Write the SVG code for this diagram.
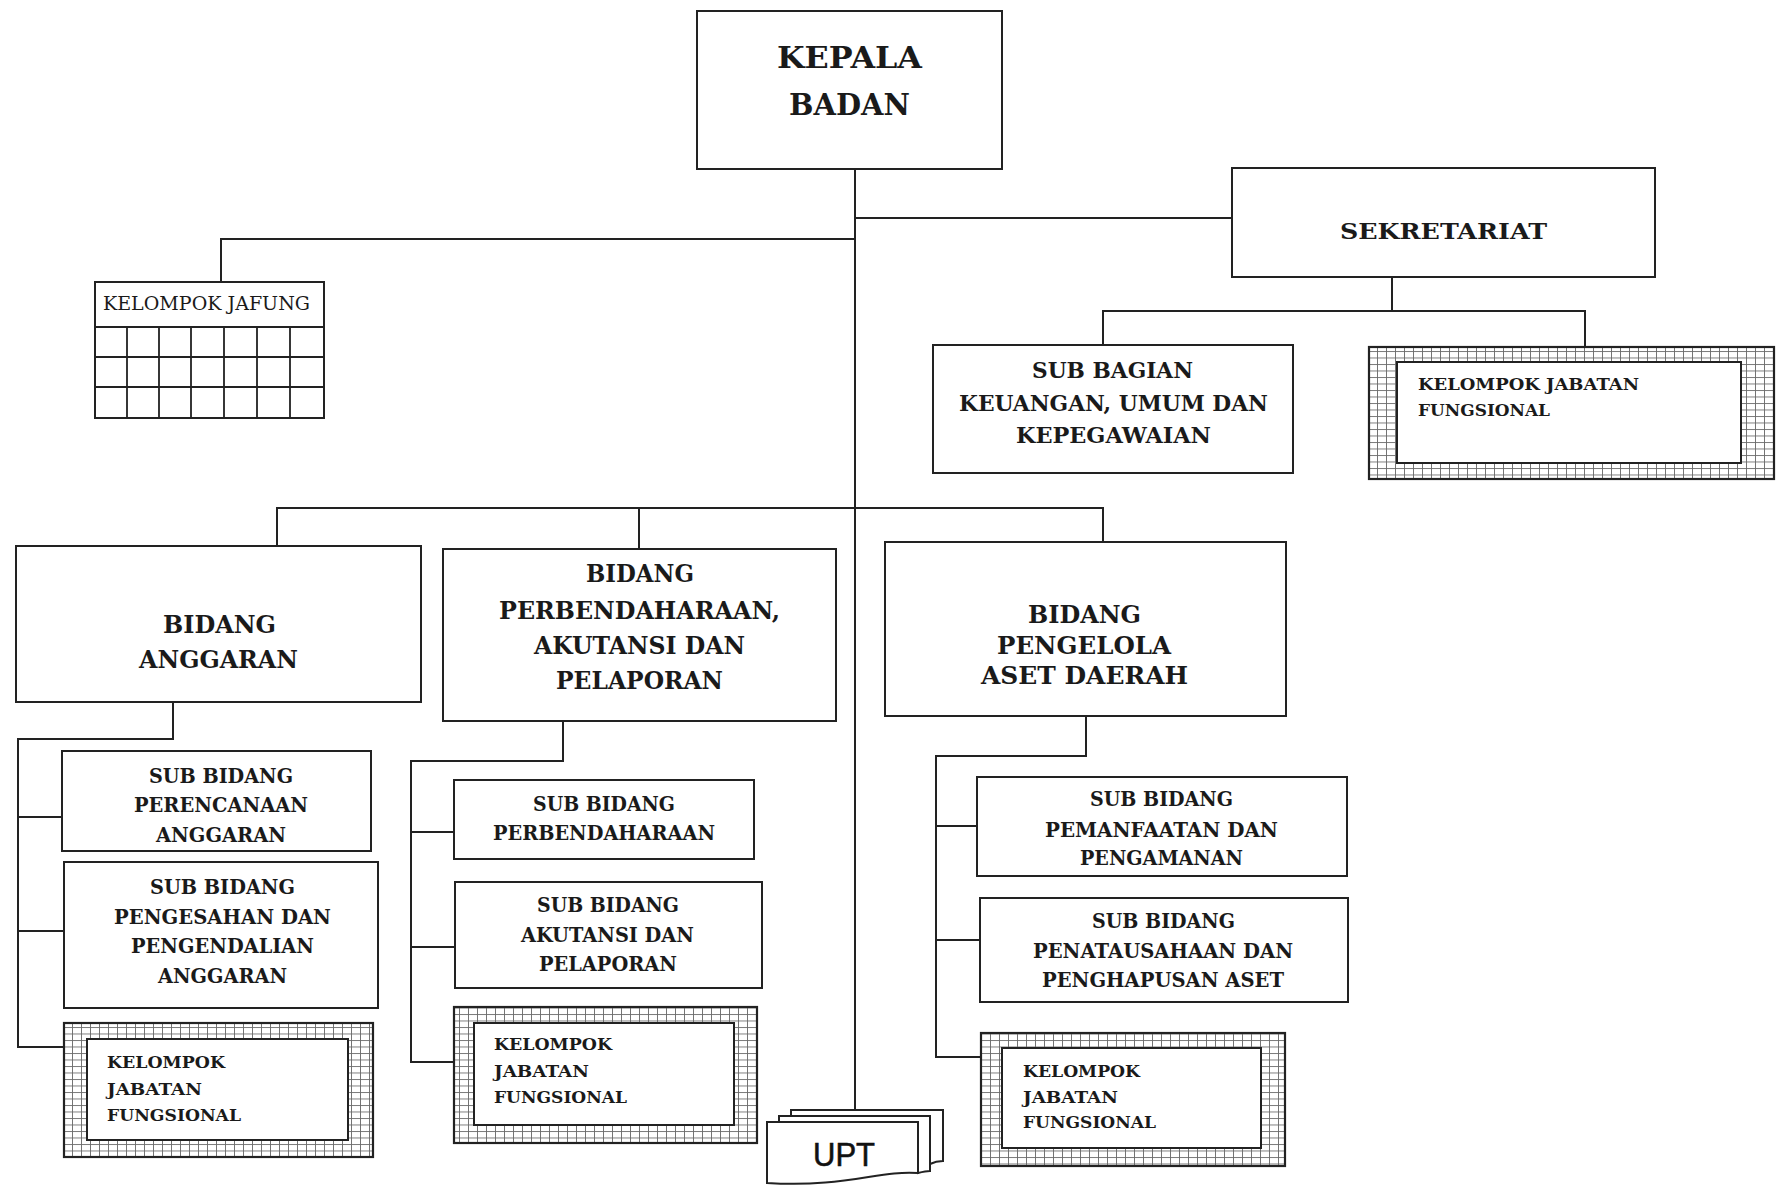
<svg xmlns="http://www.w3.org/2000/svg" width="1782" height="1185" viewBox="0 0 1782 1185">
<defs>
<pattern id="hatch" width="9" height="6.5" patternUnits="userSpaceOnUse">
<rect width="9" height="6.5" fill="#fff"/>
<path d="M0,0.5H9M0.5,0V6.5" stroke="#6a6a6a" stroke-width="0.9" fill="none"/>
</pattern>
<style>
.box{fill:#fff;stroke:#222;stroke-width:2}
.hat{fill:url(#hatch);stroke:#222;stroke-width:2.2}
.ln{fill:none;stroke:#222;stroke-width:2}
.grid{fill:none;stroke:#222;stroke-width:1.8}
.t{font-family:"DejaVu Serif","Liberation Serif",serif;font-weight:bold;fill:#1a1a1a}
.c{text-anchor:middle}
.k{font-size:17px}
.s{font-size:20px}
.b{font-size:24px}
</style>
</defs>
<rect width="1782" height="1185" fill="#fff"/>
<g id="connectors">
<path class="ln" d="M855,169V1110"/>
<path class="ln" d="M855,218H1232"/>
<path class="ln" d="M855,239H221V282"/>
<path class="ln" d="M1392,277V311M1103,345V311H1585V347"/>
<path class="ln" d="M277,546V508H1103V542M639,508V549"/>
<path class="ln" d="M173,702V739H18V1047H64M18,817H62M18,931H64"/>
<path class="ln" d="M563,721V761H411V1062H454M411,832H454M411,947H455"/>
<path class="ln" d="M1086,716V756H936V1057H981M936,826H977M936,940H980"/>
</g>
<g id="kepala">
<rect class="box" x="697" y="11" width="305" height="158"/>
<text class="t c" font-size="30" x="849.5" y="68" textLength="145" lengthAdjust="spacingAndGlyphs">KEPALA</text>
<text class="t c" font-size="30" x="849.5" y="115" textLength="121" lengthAdjust="spacingAndGlyphs">BADAN</text>
</g>
<g id="sekretariat">
<rect class="box" x="1232" y="168" width="423" height="109"/>
<text class="t c" font-size="23" x="1443.5" y="239" textLength="207" lengthAdjust="spacingAndGlyphs">SEKRETARIAT</text>
</g>
<g id="subbag">
<rect class="box" x="933" y="345" width="360" height="128"/>
<text class="t c" font-size="22" x="1112.5" y="378" textLength="161" lengthAdjust="spacingAndGlyphs">SUB BAGIAN</text>
<text class="t c" font-size="22" x="1113.5" y="411" textLength="309" lengthAdjust="spacingAndGlyphs">KEUANGAN, UMUM DAN</text>
<text class="t c" font-size="22" x="1113.5" y="443" textLength="195" lengthAdjust="spacingAndGlyphs">KEPEGAWAIAN</text>
</g>
<g id="kjf-sekretariat">
<rect class="hat" x="1369" y="347" width="405" height="132"/>
<rect class="box" x="1397" y="362" width="344" height="101"/>
<text class="t k" x="1418" y="390" textLength="221" lengthAdjust="spacingAndGlyphs">KELOMPOK JABATAN</text>
<text class="t k" x="1418" y="416" textLength="132" lengthAdjust="spacingAndGlyphs">FUNGSIONAL</text>
</g>
<g id="jafung">
<rect class="box" x="95" y="282" width="229" height="136"/>
<path class="grid" d="M95,327H324M95,357H324M95,387H324M127,327V418M159,327V418M191,327V418M224,327V418M257,327V418M290,327V418"/>
<text class="t" font-size="18" x="103" y="310" textLength="207" lengthAdjust="spacingAndGlyphs" style="font-weight:normal">KELOMPOK JAFUNG</text>
</g>
<g id="bidang-anggaran">
<rect class="box" x="16" y="546" width="405" height="156"/>
<text class="t c b" x="219.5" y="633" textLength="113" lengthAdjust="spacingAndGlyphs">BIDANG</text>
<text class="t c b" x="218.5" y="668" textLength="159" lengthAdjust="spacingAndGlyphs">ANGGARAN</text>
</g>
<g id="sub-perencanaan">
<rect class="box" x="62" y="751" width="309" height="100"/>
<text class="t c s" x="221" y="783" textLength="144" lengthAdjust="spacingAndGlyphs">SUB BIDANG</text>
<text class="t c s" x="221" y="812" textLength="174" lengthAdjust="spacingAndGlyphs">PERENCANAAN</text>
<text class="t c s" x="221" y="842" textLength="130" lengthAdjust="spacingAndGlyphs">ANGGARAN</text>
</g>
<g id="sub-pengesahan">
<rect class="box" x="64" y="862" width="314" height="146"/>
<text class="t c s" x="222.5" y="894" textLength="145" lengthAdjust="spacingAndGlyphs">SUB BIDANG</text>
<text class="t c s" x="222.5" y="924" textLength="217" lengthAdjust="spacingAndGlyphs">PENGESAHAN DAN</text>
<text class="t c s" x="222.5" y="953" textLength="183" lengthAdjust="spacingAndGlyphs">PENGENDALIAN</text>
<text class="t c s" x="222.5" y="983" textLength="129" lengthAdjust="spacingAndGlyphs">ANGGARAN</text>
</g>
<g id="kjf-anggaran">
<rect class="hat" x="64" y="1023" width="309" height="134"/>
<rect class="box" x="87" y="1039" width="261" height="101"/>
<text class="t k" x="107" y="1068" textLength="118" lengthAdjust="spacingAndGlyphs">KELOMPOK</text>
<text class="t k" x="107" y="1095" textLength="95" lengthAdjust="spacingAndGlyphs">JABATAN</text>
<text class="t k" x="107" y="1121" textLength="134" lengthAdjust="spacingAndGlyphs">FUNGSIONAL</text>
</g>
<g id="bidang-perbendaharaan">
<rect class="box" x="443" y="549" width="393" height="172"/>
<text class="t c b" x="640" y="582" textLength="108" lengthAdjust="spacingAndGlyphs">BIDANG</text>
<text class="t c b" x="639.5" y="619" textLength="281" lengthAdjust="spacingAndGlyphs">PERBENDAHARAAN,</text>
<text class="t c b" x="639.5" y="654" textLength="211" lengthAdjust="spacingAndGlyphs">AKUTANSI DAN</text>
<text class="t c b" x="639.5" y="689" textLength="167" lengthAdjust="spacingAndGlyphs">PELAPORAN</text>
</g>
<g id="sub-perbendaharaan">
<rect class="box" x="454" y="780" width="300" height="79"/>
<text class="t c s" x="604" y="811" textLength="142" lengthAdjust="spacingAndGlyphs">SUB BIDANG</text>
<text class="t c s" x="604" y="840" textLength="222" lengthAdjust="spacingAndGlyphs">PERBENDAHARAAN</text>
</g>
<g id="sub-akutansi">
<rect class="box" x="455" y="882" width="307" height="106"/>
<text class="t c s" x="608" y="912" textLength="142" lengthAdjust="spacingAndGlyphs">SUB BIDANG</text>
<text class="t c s" x="607.5" y="942" textLength="173" lengthAdjust="spacingAndGlyphs">AKUTANSI DAN</text>
<text class="t c s" x="608" y="971" textLength="138" lengthAdjust="spacingAndGlyphs">PELAPORAN</text>
</g>
<g id="kjf-perbendaharaan">
<rect class="hat" x="454" y="1007" width="303" height="136"/>
<rect class="box" x="474" y="1023" width="260" height="102"/>
<text class="t k" x="494" y="1050" textLength="118" lengthAdjust="spacingAndGlyphs">KELOMPOK</text>
<text class="t k" x="494" y="1077" textLength="95" lengthAdjust="spacingAndGlyphs">JABATAN</text>
<text class="t k" x="494" y="1103" textLength="133" lengthAdjust="spacingAndGlyphs">FUNGSIONAL</text>
</g>
<g id="bidang-aset">
<rect class="box" x="885" y="542" width="401" height="174"/>
<text class="t c b" x="1084.5" y="623" textLength="113" lengthAdjust="spacingAndGlyphs">BIDANG</text>
<text class="t c b" x="1084" y="654" textLength="174" lengthAdjust="spacingAndGlyphs">PENGELOLA</text>
<text class="t c b" x="1084.5" y="684" textLength="207" lengthAdjust="spacingAndGlyphs">ASET DAERAH</text>
</g>
<g id="sub-pemanfaatan">
<rect class="box" x="977" y="777" width="370" height="99"/>
<text class="t c s" x="1161.5" y="806" textLength="143" lengthAdjust="spacingAndGlyphs">SUB BIDANG</text>
<text class="t c s" x="1161.5" y="837" textLength="233" lengthAdjust="spacingAndGlyphs">PEMANFAATAN DAN</text>
<text class="t c s" x="1161.5" y="865" textLength="163" lengthAdjust="spacingAndGlyphs">PENGAMANAN</text>
</g>
<g id="sub-penatausahaan">
<rect class="box" x="980" y="898" width="368" height="104"/>
<text class="t c s" x="1163.5" y="928" textLength="143" lengthAdjust="spacingAndGlyphs">SUB BIDANG</text>
<text class="t c s" x="1163" y="958" textLength="260" lengthAdjust="spacingAndGlyphs">PENATAUSAHAAN DAN</text>
<text class="t c s" x="1163" y="987" textLength="242" lengthAdjust="spacingAndGlyphs">PENGHAPUSAN ASET</text>
</g>
<g id="kjf-aset">
<rect class="hat" x="981" y="1033" width="304" height="133"/>
<rect class="box" x="1002" y="1048" width="259" height="100"/>
<text class="t k" x="1023" y="1077" textLength="117" lengthAdjust="spacingAndGlyphs">KELOMPOK</text>
<text class="t k" x="1023" y="1103" textLength="95" lengthAdjust="spacingAndGlyphs">JABATAN</text>
<text class="t k" x="1023" y="1128" textLength="133" lengthAdjust="spacingAndGlyphs">FUNGSIONAL</text>
</g>
<g id="upt">
<path class="box" d="M791,1110H943V1161C938,1161 934,1162 930,1164V1116H791Z"/>
<path class="box" d="M779,1116H930V1171C926,1171 922,1172 918,1173V1122H779Z"/>
<path class="box" d="M767,1122H918V1173C880,1170 845,1188 767,1183Z"/>
<text x="844" y="1166" font-family="'Liberation Sans',Arial,sans-serif" font-size="33" text-anchor="middle" fill="#111" stroke="#111" stroke-width="0.6" textLength="62" lengthAdjust="spacingAndGlyphs">UPT</text>
</g>
</svg>
